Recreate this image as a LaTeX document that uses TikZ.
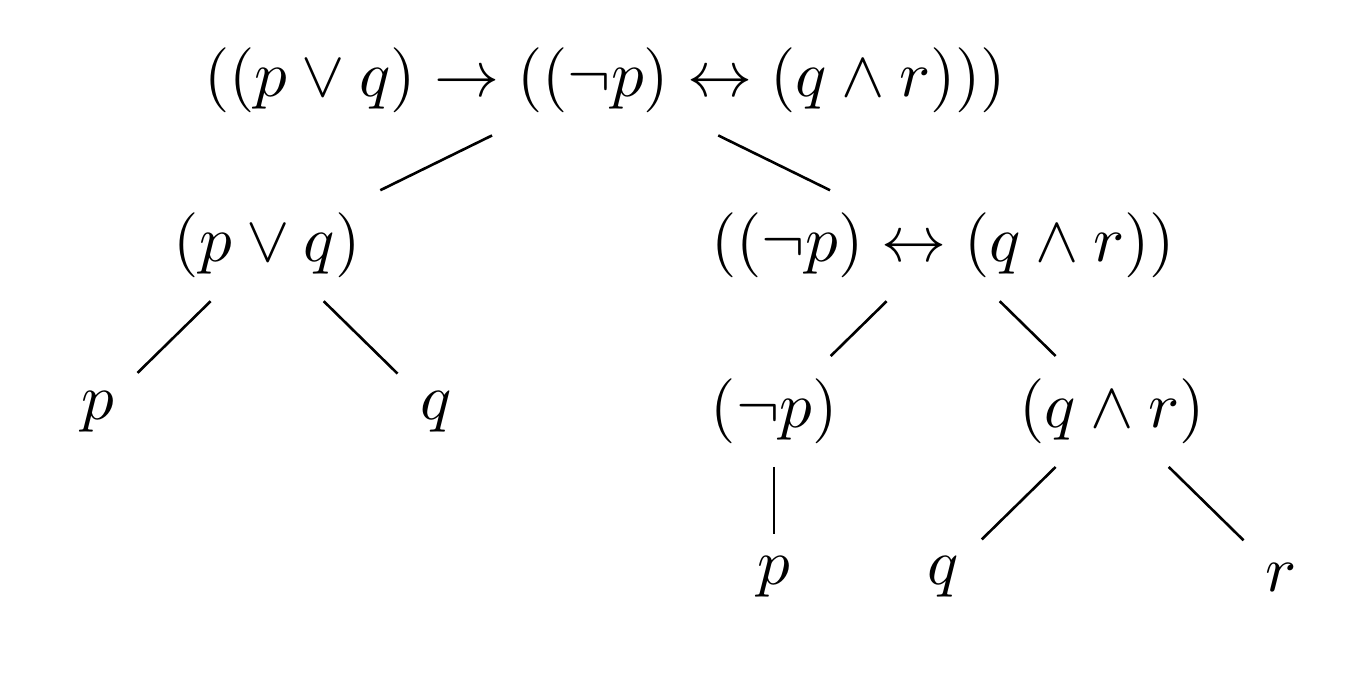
\documentclass[tikz,border=0pt]{standalone}
\usetikzlibrary{positioning}
\tikzset{
	branch/.style={draw,line width=0.4pt},
	sub/.style={below left=25.5pt and 26pt of #1},
	sup/.style={below right=25.5pt and 26pt of #1}
}

\begin{document}
\begin{tikzpicture}[on grid,node distance=25.5pt and 52pt]
	\useasboundingbox (-93.1pt,-92.6pt) rectangle (115.2pt,12.3pt);
	\node (root) {$((p\vee q)\rightarrow((\neg p)\leftrightarrow(q\wedge r)))$};
	\node[below left=of root] (disj) {$(p\vee q)$};
	\node[below right=of root] (bicond) {$((\neg p)\leftrightarrow(q\wedge r))$};
	\node[sub=disj] (p1) {$p$};
	\node[sup=disj] (q1) {$q$};
	\node[sub=bicond] (neg) {$(\neg p)$};
	\node[sup=bicond] (conj) {$(q\wedge r)$};
	\node[below=25.5pt of neg] (p2) {$p$};
	\node[sub=conj] (q2) {$q$};
	\node[sup=conj] (r1) {$r$};
	\foreach \from/\to in {root/disj,root/bicond,disj/p1,disj/q1,bicond/neg,bicond/conj,neg/p2,conj/q2,conj/r1}
		\draw[branch] (\from) -- (\to);
\end{tikzpicture}
\end{document}
